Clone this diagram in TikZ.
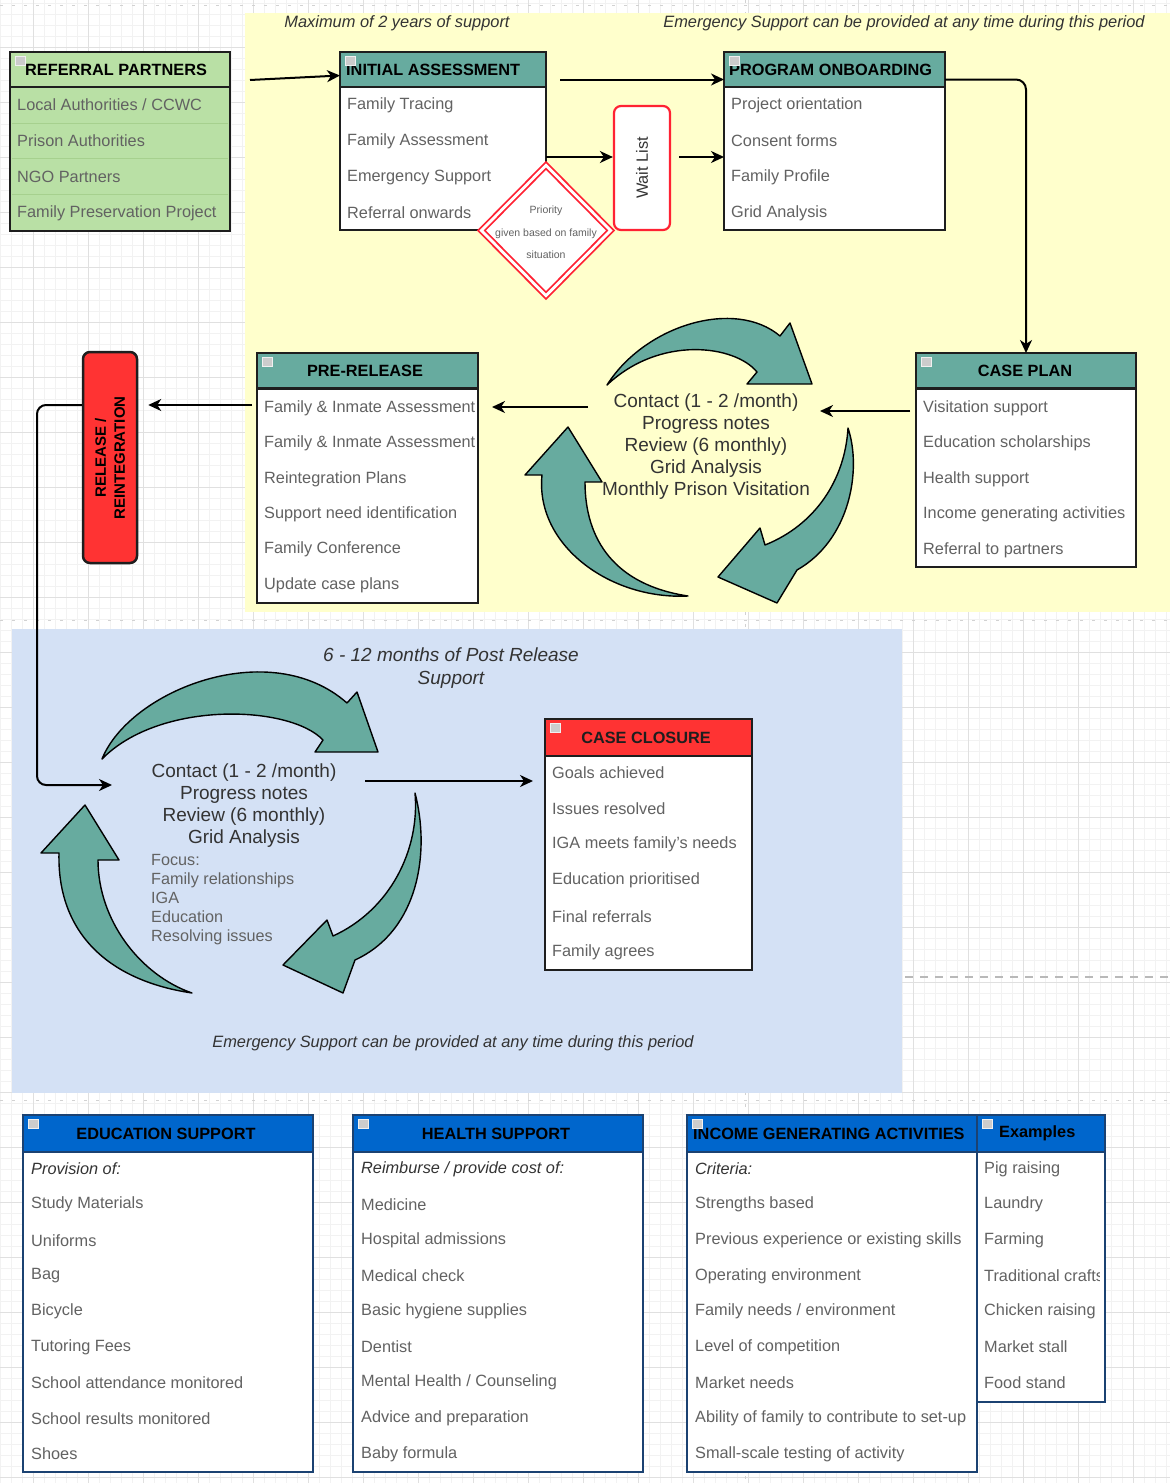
\documentclass[tikz,border=0pt]{standalone}
\usepackage{fontspec}
\setmainfont{Liberation Sans}
\usetikzlibrary{shapes.geometric,arrows.meta,calc}
\definecolor{yel}{HTML}{FFFFCC}
\definecolor{blu}{HTML}{D4E1F5}
\definecolor{tealh}{HTML}{67AB9F}
\definecolor{grn}{HTML}{B9E0A5}
\definecolor{grnline}{HTML}{A6D08E}
\definecolor{redh}{HTML}{FF3333}
\definecolor{redl}{HTML}{FF2233}
\definecolor{blueh}{HTML}{0066CC}
\definecolor{navy}{HTML}{1B4272}
\definecolor{itemc}{HTML}{626262}
\definecolor{darkt}{HTML}{333333}
\definecolor{edge}{HTML}{1E1E1E}
\definecolor{gridminor}{HTML}{F2F2F2}
\definecolor{gridmajor}{HTML}{E0E0E0}

\newcommand{\mkbox}[8]{%
  \node[boxbody, #8, minimum width=#4pt, minimum height=#5pt] (#1) at (#2,#3) {};
  \node[boxhead, #8, fill=#7, minimum width=#4pt, minimum height=#6pt] (#1h) at (#2,#3) {};
}
\newcommand{\mkicon}[2]{\fill[gray!40, draw=gray!12, line width=0.6pt] ({#1+5},{#2+4}) rectangle ({#1+15},{#2+13});}
\newcommand{\mkitems}[5]{%
  \foreach \t [count=\i] in {#5} \node[item] (#1-\i) at (#2,{#3+(\i-1)*#4}) {\t};
}

\begin{document}
\begin{tikzpicture}[x=1pt,y=-1pt,
  boxbody/.style={draw, fill=white, anchor=north west, inner sep=0pt, outer sep=0pt},
  boxhead/.style={draw, anchor=north west, inner sep=0pt, outer sep=0pt},
  topb/.style={draw=edge, line width=2.6pt},
  botb/.style={draw=navy, line width=2pt},
  item/.style={anchor=west, inner sep=0pt, text=itemc, font=\fontsize{16.3}{19}\selectfont},
  htext/.style={inner sep=0pt, text=black, font=\bfseries\fontsize{16.3}{19}\selectfont},
  note/.style={inner sep=0pt, text=darkt, font=\itshape\fontsize{16.4}{19}\selectfont},
  cyc/.style={inner sep=0pt, text=darkt, align=center, font=\fontsize{19}{21.8}\selectfont},
  conn/.style={draw=black, line width=2pt, -{Stealth[length=13pt,width=12pt,inset=4pt]}},
  barrow/.style={fill=tealh, draw=black, line width=1.4pt, line join=round},
]
\useasboundingbox (0,0) rectangle (1170,1483);
\fill[white] (0,0) rectangle (1170,1483);

% grid
\foreach \x in {0,11,...,1170} \draw[gridminor, line width=0.7pt] (\x,0) -- (\x,1483);
\foreach \y in {3,14,...,1483} \draw[gridminor, line width=0.7pt] (0,\y) -- (1170,\y);
\foreach \x in {33,88,...,1170} \draw[gridmajor, line width=0.9pt] (\x,0) -- (\x,1483);
\foreach \y in {47,102,...,1483} \draw[gridmajor, line width=0.9pt] (0,\y) -- (1170,\y);
% page breaks
\foreach \y in {5,620,1100} \draw[gray!35, line width=0.8pt, dash pattern=on 3pt off 9pt] (0,\y) -- (1170,\y);
\draw[gray!35, line width=0.8pt, dash pattern=on 3pt off 9pt] (745,0) -- (745,1483);
\draw[gray!55, line width=1.4pt, dash pattern=on 8pt off 7pt] (905,977) -- (1170,977);

% regions
\fill[yel] (245,13) rectangle (1170,612);
\fill[blu] (12,629) rectangle (902,1093);

% notes
\node[note] (n1) at (397,23) {Maximum of 2 years of support};
\node[note] (n2) at (904,23) {Emergency Support can be provided at any time during this period};
\node[note, align=center, font=\itshape\fontsize{19}{23}\selectfont] (n3) at (451,668) {6 - 12 months of Post Release\\Support};
\node[note] (n4) at (453,1043) {Emergency Support can be provided at any time during this period};

% ---------- boxes ----------
% Referral partners
\mkbox{rp}{10}{52}{220}{179}{35}{grn}{topb, fill=grn}
\foreach \y in {123,158,194} \draw[grnline, line width=0.8pt] (12,\y) -- (228,\y);
\node[htext, anchor=west] (rpt) at (25,69.5) {REFERRAL PARTNERS};
\mkitems{rp}{17}{105}{36}{Local Authorities / CCWC, Prison Authorities, NGO Partners, Family Preservation Project}
\mkicon{10}{52}

% Initial assessment
\mkbox{ia}{340}{52}{206}{178}{35}{tealh}{topb}
\node[htext, anchor=west] (iat) at (346,69.5) {INITIAL ASSESSMENT};
\mkitems{ia}{347}{105}{36}{Family Tracing, Family Assessment, Emergency Support, Referral onwards}
\mkicon{340}{52}

% Program onboarding
\mkbox{po}{724}{52}{221}{178}{35}{tealh}{topb}
\node[htext, anchor=west] (pot) at (729,69.5) {PROGRAM ONBOARDING};
\mkitems{po}{731}{105}{36}{Project orientation, Consent forms, Family Profile, Grid Analysis}
\mkicon{724}{52}

% Case plan
\mkbox{cp}{916}{353}{220}{214}{35.5}{tealh}{topb}
\node[htext] (cpt) at (1025,370.5) {CASE PLAN};
\mkitems{cp}{923}{408}{35.5}{Visitation support, Education scholarships, Health support, Income generating activities, Referral to partners}
\mkicon{916}{353}

% Pre-release
\mkbox{pr}{257}{353}{221}{250}{35.5}{tealh}{topb}
\node[htext] (prt) at (365,370.5) {PRE-RELEASE};
\begin{scope}
\clip (257,353) rectangle (475,603);
\mkitems{pr}{264}{408}{35.4}{Family \& Inmate Assessment, Family \& Inmate Assessment, Reintegration Plans, Support need identification, Family Conference, Update case plans}
\end{scope}
\mkicon{257}{353}

% Case closure
\mkbox{cc}{545}{719}{207}{251}{37}{redh}{topb}
\node[htext, text=edge] (cct) at (646,737.5) {CASE CLOSURE};
\mkitems{cc}{552}{773}{35.8}{Goals achieved, Issues resolved, IGA meets family's needs, Education prioritised, Final referrals, Family agrees}
\mkicon{545}{719}

% Education support
\mkbox{es}{23}{1115}{290}{357}{37}{blueh}{botb}
\node[htext] (est) at (166,1133.5) {EDUCATION SUPPORT};
\mkitems{es}{31}{1169}{35.6}{{\itshape\color{darkt}Provision of:}, Study Materials, Uniforms, Bag, Bicycle, Tutoring Fees, School attendance monitored, School results monitored, Shoes}
\mkicon{23}{1115}

% Health support
\mkbox{hs}{353}{1115}{290}{357}{37}{blueh}{botb}
\node[htext] (hst) at (496,1133.5) {HEALTH SUPPORT};
\mkitems{hs}{361}{1169}{35.6}{{\itshape\color{darkt}Reimburse / provide cost of:}, Medicine, Hospital admissions, Medical check, Basic hygiene supplies, Dentist, Mental Health / Counseling, Advice and preparation, Baby formula}
\mkicon{353}{1115}

% Income generating activities
\mkbox{ig}{687}{1115}{290}{357}{37}{blueh}{botb}
\node[htext, anchor=west] (igt) at (693,1133.5) {INCOME GENERATING ACTIVITIES};
\mkitems{ig}{695}{1169}{35.6}{{\itshape\color{darkt}Criteria:}, Strengths based, Previous experience or existing skills, Operating environment, Family needs / environment, Level of competition, Market needs, Ability of family to contribute to set-up, Small-scale testing of activity}
\mkicon{687}{1115}

% Examples
\mkbox{ex}{977}{1115}{128}{287}{37}{blueh}{botb}
\node[htext, anchor=west] (ext) at (999,1133.5) {Examples};
\begin{scope}
\clip (977,1115) rectangle (1099,1402);
\mkitems{ex}{984}{1169}{35.6}{Pig raising, Laundry, Farming, Traditional crafts, Chicken raising, Market stall, Food stand}
\end{scope}
\mkicon{977}{1115}

% Release / reintegration
\node[draw=edge, line width=2.5pt, fill=redh, rounded corners=7pt, minimum width=54pt, minimum height=211pt, inner sep=0pt] (rel) at (110,457.5) {};
\node[rotate=90, align=center, inner sep=0pt, text=black, font=\bfseries\fontsize{15}{19}\selectfont] (relt) at (110,458) {RELEASE /\\REINTEGRATION};

% Priority diamond and wait list
\node[diamond, draw=redl, line width=1.8pt, double=white, double distance=2.8pt, fill=white, minimum width=130pt, minimum height=131pt, inner sep=0pt] (prio) at (546,230.5) {};
\node[align=center, inner sep=0pt, text=itemc, font=\fontsize{10.5}{22.5}\selectfont] (priot) at (546,232.5) {Priority\\given based on family\\situation};
\node[draw=redl, line width=2.2pt, fill=white, rounded corners=7pt, minimum width=56pt, minimum height=124pt, inner sep=0pt] (wait) at (642,168) {};
\node[rotate=90, inner sep=0pt, text=darkt, font=\fontsize{16.3}{19}\selectfont] (waitt) at (642,168) {Wait List};

% cycle texts
\node[cyc] (c1) at (706,446.5) {Contact (1 - 2 /month)\\Progress notes\\Review (6 monthly)\\Grid Analysis\\Monthly Prison Visitation};
\node[cyc] (c2) at (244,805.5) {Contact (1 - 2 /month)\\Progress notes\\Review (6 monthly)\\Grid Analysis};
\node[anchor=west, align=left, inner sep=0pt, text=itemc, font=\fontsize{16.2}{19.2}\selectfont] (focus) at (151,899.5) {Focus:\\Family relationships\\IGA\\Education\\Resolving issues};

% block arrows, top cycle
\draw[barrow] (607,385) .. controls (645,325) and (735,298) .. (780,336) -- (790,323) -- (812,384) -- (747,384) -- (757,372) .. controls (735,345) and (660,335) .. cycle;
\draw[barrow] (848,428) .. controls (862,470) and (850,540) .. (797,570) -- (777,603) -- (718,577) -- (760,528) -- (765,545) .. controls (815,525) and (845,480) .. cycle;
\draw[barrow] (688,596) .. controls (610,600) and (535,545) .. (542,475) -- (525,475) -- (568,427) -- (602,482) -- (585,482) .. controls (585,540) and (615,585) .. cycle;
% block arrows, bottom cycle
\draw[barrow] (102,759) .. controls (130,690) and (270,635) .. (347,703) -- (357,692) -- (378,752) -- (315,752) -- (323,740) .. controls (290,705) and (160,700) .. cycle;
\draw[barrow] (415,793) .. controls (430,850) and (420,930) .. (355,960) -- (343,993) -- (283,965) -- (327,920) -- (333,936) .. controls (390,910) and (420,850) .. cycle;
\draw[barrow] (192,993) .. controls (105,980) and (57,930) .. (59,853) -- (41,853) -- (85,805) -- (119,860) -- (98,860) .. controls (98,920) and (140,975) .. cycle;

% ---------- connectors ----------
\coordinate (rpo) at (250,80);
\coordinate (wl) at (0,157);
\coordinate (c1r) at (820,411);
\coordinate (c1l) at (588,407);
\coordinate (lv) at (37,405);
\coordinate (c2in) at (112,785);
\coordinate (c2r) at (365,781);

\draw[conn] (rpo) -- ([yshift=-6pt]iah.west);
\draw[conn, shorten <=14pt] ([yshift=-10pt]iah.east) -- ([yshift=-10pt]poh.west);
\draw[conn] (ia.east |- wl) -- (wait.west |- wl);
\draw[conn, shorten <=8pt] (wait.east |- wl) -- (po.west |- wl);
\draw[conn, rounded corners=10pt] ([yshift=-10pt]poh.east) -| (cph.north);
\draw[conn, shorten <=6pt] (cp.west |- c1r) -- (c1r);
\draw[conn, shorten >=14pt] (c1l) -- (pr.east |- c1l);
\draw[conn, shorten <=5pt, shorten >=10pt] (pr.west |- lv) -- (rel.east |- lv);
\draw[conn, rounded corners=9pt] (rel.west |- lv) -- (lv) -- (lv |- c2in) -- (c2in);
\draw[conn, shorten >=12pt] (c2r) -- (cc.west |- c2r);
\end{tikzpicture}
\end{document}
